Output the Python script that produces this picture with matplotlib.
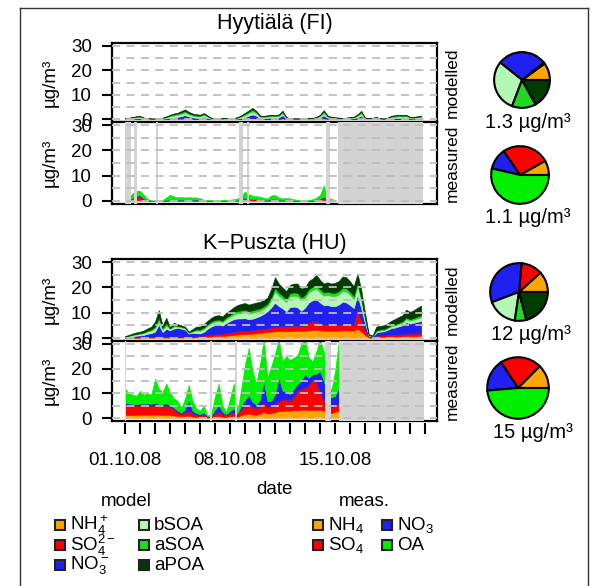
import numpy as np
import matplotlib
matplotlib.use("Agg")
import matplotlib.pyplot as plt
from matplotlib.lines import Line2D
from matplotlib.patches import Rectangle

plt.rcParams['font.family'] = ['Liberation Sans', 'DejaVu Sans']
plt.rcParams['mathtext.fontset'] = 'custom'
plt.rcParams['mathtext.rm'] = 'Liberation Sans'
plt.rcParams['mathtext.it'] = 'Liberation Sans:italic'

# ---------------------------------------------------------------- data
STEP = 0.25          # days between samples, first sample 01.10.08 00:00
date_ticks = list(range(21))
date_labels = ["01.10.08", "08.10.08", "15.10.08"]
date_label_pos = [0, 7, 14]

model_names = [r"NH$_4^+$", r"SO$_4^{2-}$", r"NO$_3^-$", "bSOA", "aSOA", "aPOA"]
meas_names = [r"NH$_4$", r"SO$_4$", r"NO$_3$", "OA"]

# Hyytiälä, modelled (µg/m3)
hy_mod_nh4 = [0.0,0.0,0.1,0.1,0.1,0.0,0.0,0.0, 0.0,0.0,0.0,0.1,0.1,0.2,0.2,0.2,
              0.3,0.2,0.2,0.1,0.1,0.2,0.1,0.0, 0.0,0.0,0.0,0.0,0.0,0.0,0.1,0.1,
              0.2,0.3,0.4,0.3,0.1,0.1,0.1,0.1, 0.1,0.1,0.3,0.1,0.0,0.0,0.0,0.0,
              0.0,0.0,0.0,0.1,0.2,0.3,0.1,0.1, 0.0,0.0,0.0,0.0,0.1,0.1,0.2,0.3,
              0.0,0.0,0.0,0.1,0.0,0.0,0.0,0.1, 0.1,0.1,0.1,0.1,0.1,0.0,0.1,0.1]
hy_mod_so4 = [0.0,0.0,0.0,0.0,0.0,0.0,0.0,0.0, 0.0,0.0,0.0,0.0,0.0,0.0,0.1,0.1,
              0.1,0.1,0.0,0.0,0.0,0.1,0.0,0.0, 0.0,0.0,0.0,0.0,0.0,0.0,0.0,0.0,
              0.0,0.1,0.1,0.1,0.0,0.0,0.0,0.0, 0.0,0.0,0.1,0.0,0.0,0.0,0.0,0.0,
              0.0,0.0,0.0,0.0,0.1,0.2,0.1,0.0, 0.0,0.0,0.0,0.0,0.0,0.0,0.1,0.1,
              0.0,0.0,0.0,0.0,0.0,0.0,0.0,0.0, 0.0,0.0,0.0,0.0,0.0,0.0,0.0,0.0]
hy_mod_no3 = [0.1,0.1,0.1,0.2,0.3,0.1,0.1,0.0, 0.0,0.1,0.1,0.2,0.4,0.5,0.6,0.9,
              1.2,0.8,0.5,0.4,0.4,0.7,0.3,0.1, 0.0,0.0,0.1,0.1,0.1,0.1,0.1,0.3,
              0.6,1.0,1.4,1.0,0.3,0.3,0.4,0.5, 0.5,0.6,1.2,0.2,0.1,0.0,0.0,0.0,
              0.1,0.1,0.1,0.2,0.4,1.0,0.3,0.2, 0.1,0.1,0.1,0.1,0.1,0.2,0.5,1.0,
              0.1,0.1,0.1,0.1,0.1,0.0,0.1,0.3, 0.3,0.4,0.4,0.4,0.2,0.2,0.2,0.3]
hy_mod_bsoa = [0.2,0.2,0.3,0.4,0.4,0.2,0.1,0.1, 0.1,0.1,0.2,0.4,0.6,0.7,0.8,0.9,
               1.0,0.8,0.7,0.6,0.6,0.7,0.5,0.2, 0.1,0.1,0.1,0.2,0.2,0.2,0.3,0.5,
               0.8,1.0,1.2,0.9,0.5,0.4,0.5,0.5, 0.5,0.5,0.8,0.2,0.1,0.1,0.1,0.1,
               0.1,0.1,0.2,0.3,0.5,0.9,0.4,0.3, 0.3,0.2,0.2,0.2,0.3,0.3,0.6,0.9,
               0.2,0.2,0.2,0.3,0.1,0.1,0.2,0.4, 0.5,0.6,0.5,0.6,0.3,0.3,0.4,0.4]
hy_mod_asoa = [0.1,0.2,0.2,0.3,0.3,0.2,0.1,0.1, 0.1,0.1,0.2,0.2,0.4,0.5,0.5,0.6,
               0.7,0.5,0.4,0.4,0.3,0.4,0.3,0.1, 0.1,0.1,0.1,0.1,0.1,0.1,0.2,0.4,
               0.5,0.6,0.8,0.6,0.3,0.3,0.3,0.4, 0.3,0.4,0.6,0.2,0.1,0.1,0.1,0.1,
               0.1,0.1,0.1,0.2,0.3,0.7,0.3,0.2, 0.2,0.2,0.1,0.2,0.2,0.2,0.3,0.6,
               0.2,0.1,0.2,0.2,0.1,0.1,0.2,0.3, 0.4,0.4,0.4,0.4,0.2,0.2,0.3,0.3]
hy_mod_apoa = [0.1,0.1,0.1,0.2,0.2,0.1,0.2,0.1, 0.0,0.0,0.1,0.2,0.3,0.4,0.4,0.6,
               0.7,0.6,0.5,0.5,0.4,0.4,0.3,0.1, 0.0,0.1,0.1,0.1,0.1,0.1,0.1,0.3,
               0.5,0.6,0.7,0.5,0.3,0.2,0.3,0.3, 0.3,0.3,0.5,0.1,0.1,0.1,0.1,0.1,
               0.1,0.1,0.1,0.1,0.3,0.6,0.3,0.1, 0.2,0.1,0.1,0.1,0.1,0.2,0.3,0.5,
               0.1,0.1,0.1,0.1,0.1,0.0,0.1,0.3, 0.3,0.3,0.3,0.3,0.1,0.1,0.2,0.3]

# Hyytiälä, measured (µg/m3)
hy_meas_nh4 = [0.0,0.1,0.2,0.3,0.3,0.2,0.1,0.0, 0.0,0.0,0.0,0.1,0.1,0.1,0.1,0.1,
               0.1,0.1,0.1,0.1,0.1,0.0,0.0,0.0, 0.0,0.0,0.0,0.0,0.0,0.1,0.1,0.2,
               0.3,0.2,0.2,0.2,0.1,0.1,0.1,0.2, 0.2,0.1,0.1,0.1,0.1,0.0,0.0,0.0,
               0.0,0.0,0.0,0.1,0.3,0.5,0.1,0.0, 0.0]
hy_meas_so4 = [0.0,0.4,0.8,1.5,1.5,0.6,0.2,0.1, 0.1,0.0,0.1,0.2,0.3,0.3,0.3,0.3,
               0.3,0.3,0.3,0.4,0.3,0.2,0.1,0.1, 0.1,0.1,0.1,0.1,0.1,0.1,0.2,0.4,
               0.6,0.5,0.4,0.4,0.3,0.3,0.2,0.4, 0.4,0.3,0.2,0.2,0.2,0.1,0.1,0.1,
               0.1,0.1,0.1,0.2,0.4,0.8,0.2,0.1, 0.1]
hy_meas_no3 = [0.0,0.1,0.2,0.3,0.4,0.2,0.1,0.0, 0.0,0.0,0.0,0.1,0.1,0.1,0.1,0.1,
               0.1,0.1,0.1,0.1,0.1,0.0,0.0,0.0, 0.0,0.0,0.0,0.0,0.0,0.1,0.1,0.2,
               0.2,0.2,0.2,0.1,0.1,0.1,0.1,0.2, 0.2,0.1,0.1,0.1,0.1,0.1,0.0,0.1,
               0.0,0.0,0.1,0.1,0.2,0.4,0.1,0.1, 0.0]
hy_meas_oa = [0.0,1.0,1.8,2.0,1.8,1.5,0.4,0.1, 0.1,0.1,0.3,1.0,2.0,1.3,1.0,1.1,
              0.9,1.0,0.9,0.8,0.6,0.3,0.3,0.2, 0.2,0.3,0.3,0.4,0.4,0.4,0.6,1.5,
              2.6,1.8,1.3,1.2,1.2,0.8,0.6,1.4, 1.6,0.9,0.6,0.8,0.6,0.5,0.3,0.2,
              0.2,0.3,0.5,0.9,1.5,4.5,1.0,0.6, 0.3]

# K-Puszta, modelled (µg/m3)
kp_mod_nh4 = [0.1,0.1,0.1,0.1,0.1,0.1,0.2,0.2, 0.2,0.3,0.2,0.2,0.2,0.2,0.2,0.2,
              0.2,0.2,0.2,0.3,0.3,0.4,0.5,0.6, 0.7,0.8,0.8,0.9,1.0,1.2,1.4,1.5,
              1.5,1.6,1.7,1.8,2.0,2.2,2.4,2.5, 2.6,2.7,2.7,2.6,2.7,2.8,2.8,2.7,
              2.8,3.0,3.1,3.2,3.0,2.9,2.9,2.8, 2.8,2.9,3.0,3.0,2.9,2.9,3.5,2.5,
              1.2,0.2,0.1,0.3,0.4,0.4,0.5,0.5, 0.5,0.6,0.6,0.7,0.7,0.7,0.8,0.8]
kp_mod_so4 = [0.1,0.1,0.1,0.2,0.2,0.2,0.3,0.3, 0.3,0.5,0.3,0.4,0.3,0.3,0.3,0.3,
              0.3,0.3,0.3,0.4,0.5,0.5,0.6,0.7, 0.8,0.9,0.9,1.0,1.1,1.2,1.3,1.4,
              1.3,1.3,1.4,1.5,1.5,1.5,1.4,1.6, 1.8,1.9,2.0,1.9,2.0,2.1,2.1,2.0,
              2.2,3.0,3.5,3.2,2.8,2.5,2.3,2.3, 2.2,2.3,2.5,2.5,2.3,2.4,8.0,4.0,
              2.0,0.3,0.2,0.5,0.6,0.6,0.7,0.8, 0.8,0.8,0.9,1.0,1.0,1.0,1.1,1.1]
kp_mod_no3 = [0.2,0.3,0.5,0.6,0.7,0.9,1.2,1.4, 2.0,4.5,1.8,3.0,2.5,3.2,3.5,3.2,
              2.8,1.2,1.5,1.2,1.0,1.5,2.5,3.2, 3.6,3.5,3.2,4.0,4.6,5.0,5.0,4.8,
              5.0,4.5,4.5,4.8,5.2,5.8,6.8,8.0, 9.5,8.0,7.0,6.0,7.5,7.5,7.2,6.0,
              7.0,8.0,8.3,8.8,8.2,7.5,7.8,7.5, 7.5,8.0,8.8,8.5,7.8,6.5,5.5,5.0,
              2.5,0.4,0.2,1.3,1.5,1.6,2.0,2.6, 2.8,3.2,3.5,4.5,4.0,4.3,4.5,4.8]
kp_mod_bsoa = [0.2,0.3,0.4,0.5,0.6,0.7,0.8,1.0, 1.3,1.5,1.0,1.3,0.5,0.8,0.5,0.5,
               0.5,0.3,0.5,1.0,1.0,1.2,1.2,1.3, 1.3,1.4,1.3,1.5,1.6,1.8,2.0,2.2,
               2.3,2.2,2.3,2.2,2.0,2.0,2.0,2.8, 4.5,4.0,3.8,3.7,4.2,4.3,4.3,4.0,
               3.8,4.0,4.0,4.2,4.0,3.8,4.0,4.0, 4.0,4.0,4.2,4.3,4.0,3.5,3.5,3.2,
               1.5,0.2,0.1,0.5,0.5,0.5,0.6,0.7, 0.8,0.9,1.0,1.2,1.1,1.2,1.3,1.5]
kp_mod_asoa = [0.1,0.1,0.2,0.2,0.3,0.3,0.4,0.5, 0.7,1.2,0.6,1.0,0.3,0.5,0.3,0.3,
               0.3,0.2,0.3,0.5,0.5,0.5,0.6,0.7, 0.7,0.7,0.6,0.8,0.8,0.9,1.0,1.0,
               1.0,1.0,1.0,1.0,1.0,1.0,1.0,1.2, 1.4,1.3,1.2,1.2,1.3,1.3,1.4,1.3,
               1.2,1.3,1.3,1.4,1.3,1.3,1.3,1.3, 1.3,1.3,1.4,1.4,1.3,1.2,1.2,1.0,
               0.6,0.1,0.1,0.4,0.4,0.4,0.4,0.5, 0.5,0.5,0.6,0.7,0.6,0.7,0.7,0.8]
kp_mod_apoa = [0.1,0.3,0.5,0.6,0.6,0.8,0.9,1.1, 2.0,3.0,1.1,2.1,0.4,1.0,0.7,0.5,
               0.4,0.3,0.7,1.1,1.2,1.4,1.4,1.5, 1.7,1.7,1.7,1.8,1.9,2.1,2.3,2.6,
               2.7,2.6,2.7,2.7,2.6,2.5,2.4,3.4, 4.2,3.6,3.3,3.1,3.3,3.5,3.7,3.5,
               3.0,3.2,3.3,4.2,3.7,3.5,3.7,3.6, 4.0,4.0,4.4,4.3,4.1,4.0,3.8,3.3,
               2.2,0.3,0.3,1.5,1.4,1.5,1.6,1.7, 2.1,2.3,2.4,3.1,2.9,3.1,3.6,3.8]

# K-Puszta, measured (µg/m3)
kp_meas_nh4 = [1.2,1.2,1.2,1.2,1.3,1.3,1.3,1.3, 1.4,1.3,1.3,1.3,1.2,1.0,0.9,0.7,
               0.8,0.9,0.6,0.5,0.4,0.5,0.2,0.3, 0.6,0.8,0.5,0.4,0.6,0.8,0.5,1.2,
               1.6,1.8,1.5,1.3,1.7,2.5,1.8,2.0, 2.4,2.8,2.8,3.0,3.0,3.1,3.2,3.3,
               3.4,3.3,3.3,3.4,3.2,3.0,2.0,2.0, 2.5,3.0]
kp_meas_so4 = [4.2,4.0,4.0,3.8,3.9,3.8,3.8,3.7, 3.8,3.6,3.6,3.7,3.2,2.6,1.5,1.0,
               1.5,2.0,1.2,0.8,0.7,0.9,0.3,0.5, 1.4,1.8,1.2,0.8,1.3,1.6,0.9,2.5,
               3.2,3.5,3.0,2.6,3.2,3.8,2.8,2.8, 3.2,4.0,4.8,4.5,4.0,5.5,7.8,8.5,
               9.0,10.0,12.4,11.0,7.0,4.0,3.0,2.3, 2.5,3.0]
kp_meas_no3 = [0.8,0.7,0.6,0.6,0.7,0.7,0.8,0.8, 0.9,0.8,0.8,0.9,0.8,0.7,0.6,0.5,
               1.5,4.5,1.2,0.7,0.5,0.8,0.2,0.3, 1.5,2.5,0.8,0.4,1.0,1.5,0.4,1.5,
               2.5,4.0,2.0,1.5,2.6,8.5,2.2,2.2, 4.0,9.5,3.5,3.0,2.7,3.2,2.8,3.5,
               5.4,3.0,2.0,3.5,8.8,8.0,5.0,4.0, 4.0,6.0]
kp_meas_oa = [5.8,4.1,3.7,3.4,5.1,3.7,4.1,3.7, 9.9,6.3,4.8,8.1,5.3,3.7,4.0,1.8,
              4.2,6.1,4.0,2.0,1.4,2.8,0.3,0.9, 5.5,8.9,2.5,0.9,5.1,10.1,1.2,6.8,
              14.7,19.2,12.5,8.6,14.5,17.2,9.7,14.0, 16.4,15.7,11.9,14.5,13.8,12.7,11.7,14.7,
              14.2,8.2,5.3,9.1,13.0,12.0,8.0,2.7, 10.0,19.0]

# periods without measurements (days since 01.10.08)
hy_gaps = [(0.0, 0.38), (0.6, 0.82), (2.05, 2.22), (7.6, 7.85), (8.1, 8.27),
           (13.4, 13.67), (14.18, 19.9)]
kp_gaps = [(0.0, 0.07), (5.67, 5.78), (7.33, 7.44), (13.3, 13.75), (14.25, 19.9)]

# period means for the pies (µg/m3)
hy_mod_mean = [0.13, 0.01, 0.37, 0.39, 0.18, 0.22]
hy_meas_mean = [0.09, 0.29, 0.13, 0.59]
kp_mod_mean = [1.40, 1.43, 3.86, 2.03, 0.77, 2.51]
kp_meas_mean = [1.88, 3.26, 2.55, 7.29]

# ---------------------------------------------------------------- style
model_colors = ["#FFA500", "#FF0000", "#2020F0", "#B4F6B4", "#22D822", "#003C00"]
meas_colors = ["#FFA500", "#FF0000", "#2020F0", "#00F000"]
GAP_COLOR = "#D3D3D3"
GRID_COLOR = "#BEBEBE"
FS = 13.5

W, H = 592, 586
fig = plt.figure(figsize=(W / 100, H / 100), dpi=100)


def fx(px):
    return px / W


def fy(py):
    return 1 - py / H


AX_L, AX_R = 112, 437
XMIN, XMAX = -13 / 15, 312 / 15


def panel(top, bottom, gaps=None):
    ax = fig.add_axes([fx(AX_L), fy(bottom), fx(AX_R) - fx(AX_L), fy(top) - fy(bottom)])
    ax.set_xlim(XMIN, XMAX)
    ax.set_ylim(-1.2, 31.2)
    ax.set_yticks([0, 10, 20, 30])
    ax.tick_params(axis='y', direction='out', length=7.5, width=1.5,
                   labelsize=FS, pad=7)
    ax.tick_params(axis='x', bottom=False, labelbottom=False)
    for s in ax.spines.values():
        s.set_linewidth(1.6)
    for g in range(0, 31, 5):
        ax.axhline(g, color=GRID_COLOR, lw=1.3, ls=(0, (4.5, 3.5)), zorder=4)
    if gaps:
        for a, b in gaps:
            ax.axvspan(a, b, color=GAP_COLOR, lw=0, zorder=3)
    return ax


def stack(ax, series, colors):
    n = len(series[0])
    t = np.arange(n) * STEP
    base = np.zeros(n)
    for vals, col in zip(series, colors):
        top = base + np.asarray(vals, float)
        ax.fill_between(t, base, top, facecolor=col, edgecolor=col, lw=0.4, zorder=2)
        base = top


def pie(cx, cy, r, vals, cols, lx, ly):
    ax = fig.add_axes([fx(cx - r), fy(cy + r), 2 * r / W, 2 * r / H])
    ax.pie(vals, colors=cols, startangle=0, counterclock=True, radius=1,
           wedgeprops=dict(edgecolor='black', linewidth=1.5))
    ax.set_xlim(-1.04, 1.04)
    ax.set_ylim(-1.04, 1.04)
    ax.set_aspect('equal')
    ax.axis('off')
    total = sum(vals)
    txt = f"{total:.1f}" if total < 10 else f"{total:.0f}"
    fig.text(fx(lx), fy(ly), txt + " µg/m³", ha='center', va='center', fontsize=14.5)


# ---------------------------------------------------------------- Hyytiälä
ax1 = panel(43, 122)
stack(ax1, [hy_mod_nh4, hy_mod_so4, hy_mod_no3, hy_mod_bsoa, hy_mod_asoa, hy_mod_apoa],
      model_colors)
ax2 = panel(122, 204, hy_gaps)
stack(ax2, [hy_meas_nh4, hy_meas_so4, hy_meas_no3, hy_meas_oa], meas_colors)
fig.text(fx(274.5), fy(24), "Hyytiälä (FI)", ha='center', va='center', fontsize=15.5)

# ---------------------------------------------------------------- K-Puszta
ax3 = panel(259, 341)
stack(ax3, [kp_mod_nh4, kp_mod_so4, kp_mod_no3, kp_mod_bsoa, kp_mod_asoa, kp_mod_apoa],
      model_colors)
ax4 = panel(341, 421, kp_gaps)
stack(ax4, [kp_meas_nh4, kp_meas_so4, kp_meas_no3, kp_meas_oa], meas_colors)
fig.text(fx(274.5), fy(243), "K\u2212Puszta (HU)", ha='center', va='center', fontsize=15.5)

# date axis, drawn slightly below the lower panel
axd = fig.add_axes([fx(AX_L), fy(423), fx(AX_R) - fx(AX_L), 0.0001])
axd.set_xlim(XMIN, XMAX)
axd.set_yticks([])
for s in axd.spines.values():
    s.set_visible(False)
axd.set_xticks(date_ticks)
axd.set_xticklabels([date_labels[date_label_pos.index(d)] if d in date_label_pos else ""
                     for d in date_ticks])
axd.tick_params(axis='x', direction='out', length=8, width=1.5, labelsize=FS, pad=13)
axd.patch.set_visible(False)
fig.text(fx(274.5), fy(489), "date", ha='center', va='center', fontsize=FS)

# axis side labels
for top, bottom, side in [(43, 122, "modelled"), (122, 204, "measured"),
                          (259, 341, "modelled"), (341, 421, "measured")]:
    yc = (top + bottom) / 2
    fig.text(fx(50), fy(yc), "µg/m³", rotation=90, ha='center', va='center', fontsize=FS)
    fig.text(fx(452), fy(yc), side, rotation=90, ha='center', va='center', fontsize=12.5)

# pies of the period means
pie(522, 80, 29, hy_mod_mean, model_colors, 528, 122)
pie(520, 175, 30, hy_meas_mean, meas_colors, 528, 217)
pie(519, 292, 30, kp_mod_mean, model_colors, 531, 335)
pie(518, 388, 32, kp_meas_mean, meas_colors, 533, 432)

# ---------------------------------------------------------------- legends
def key(x, y, col, label):
    fig.patches.append(Rectangle((fx(x - 5), fy(y + 5)), 10 / W, 10 / H,
                                 transform=fig.transFigure, facecolor=col,
                                 edgecolor='#222222', lw=1.5))
    fig.text(fx(x + 10), fy(y), label, ha='left', va='center', fontsize=13.5)


fig.text(fx(126), fy(502), "model", ha='center', va='center', fontsize=13.5)
fig.text(fx(364), fy(502), "meas.", ha='center', va='center', fontsize=13.5)
rows = [525, 545, 565]
for i in range(3):
    key(60, rows[i], model_colors[i], model_names[i])
    key(144, rows[i], model_colors[i + 3], model_names[i + 3])
for i in range(2):
    key(318, rows[i], meas_colors[i], meas_names[i])
    key(387, rows[i], meas_colors[i + 2], meas_names[i + 2])

# outer frame
for xs, ys in [((20, 588), (8, 8)), ((20, 20), (8, 586)), ((588, 588), (8, 586))]:
    fig.add_artist(Line2D([fx(xs[0]), fx(xs[1])], [fy(ys[0]), fy(ys[1])],
                          transform=fig.transFigure, color='#333333', lw=1))

fig.savefig("out.png", dpi=100)
